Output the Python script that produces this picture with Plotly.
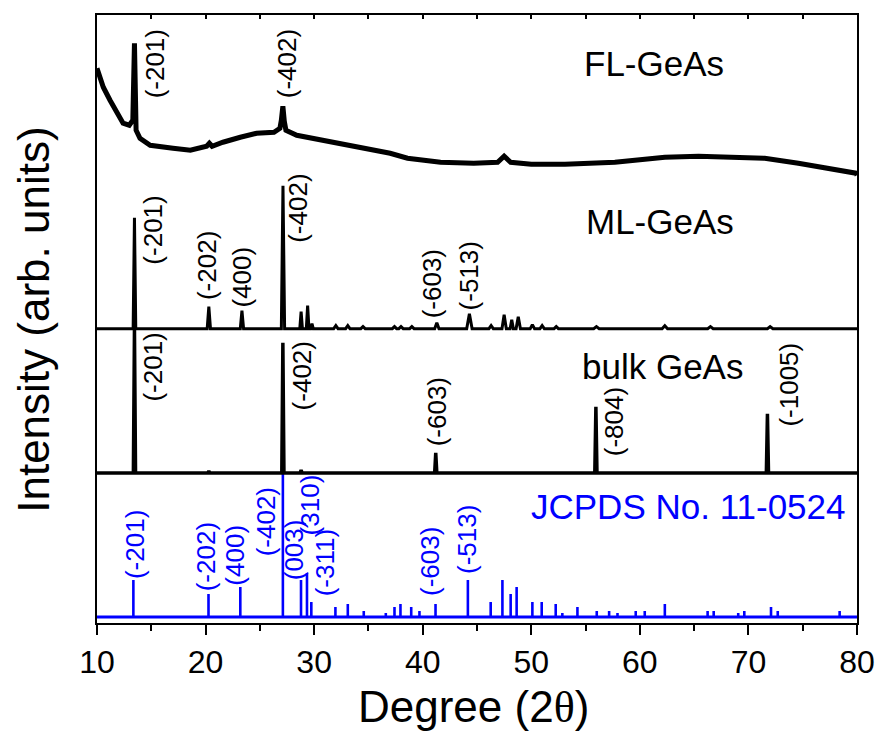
import plotly.graph_objects as go

# ---- FL-GeAs: measured profile (2theta, intensity in arb. units) ----
fl_two_theta = [10.0, 10.58, 11.2, 11.8, 12.4, 12.97, 13.3, 13.45, 13.6, 13.96, 14.9,
                17.0, 18.6, 20.1, 20.35, 20.6, 21.6, 23.2, 24.7, 26.3, 26.85, 26.98,
                27.12, 27.25, 27.4, 28.4, 30.9, 33.95, 37.0, 38.6, 41.64, 44.7, 46.9,
                47.5, 48.1, 50.0, 53.1, 57.7, 62.3, 65.4, 68.4, 71.5, 74.6, 77.6, 79.9, 80.0]
fl_intensity = [555, 536, 523, 511, 500, 498, 503, 580, 493, 485, 478,
                475, 473, 477, 480, 477, 481, 486, 490, 491, 495, 503,
                517, 502, 493, 488, 483, 476, 470, 465, 461, 460, 461,
                467, 461, 459, 459, 461, 466, 467, 466, 465, 460, 455, 450, 448]

# ---- ML-GeAs: peak list (position, height above its baseline) ----
ml_offset = 294.5
ml_peak_pos = [13.45, 20.3, 23.35, 27.13, 28.8, 29.4, 29.8, 32.0, 33.1, 34.5, 37.4, 38.0,
               39.0, 41.3, 44.3, 46.3, 47.5, 48.2, 48.8, 50.1, 51.0, 52.3, 56.0, 62.3,
               66.5, 72.0]
ml_peak_height = [111, 22, 18, 143, 17, 23, 5, 3, 3, 2, 2, 2,
                  2, 6, 15, 3, 14, 9, 12, 4, 3, 2, 2, 3,
                  2, 2]
ml_peak_halfwidth = [0.12, 0.15, 0.15, 0.15, 0.12, 0.12, 0.12, 0.2, 0.2, 0.2, 0.2, 0.2,
                     0.2, 0.2, 0.25, 0.2, 0.2, 0.15, 0.2, 0.2, 0.2, 0.2, 0.25, 0.25,
                     0.25, 0.25]

# ---- bulk GeAs: peak list ----
bulk_offset = 150.0
bulk_peak_pos = [13.45, 20.3, 27.12, 28.8, 41.2, 55.95, 71.75]
bulk_peak_height = [144.3, 2, 130.3, 3, 20.3, 66.3, 59.3]
bulk_peak_halfwidth = [0.1, 0.1, 0.1, 0.1, 0.1, 0.1, 0.1]

# ---- JCPDS No. 11-0524 reference lines ----
jcpds_offset = 6.0
jcpds_pos = [13.35, 20.27, 23.2, 27.12, 28.79, 29.34, 29.74, 31.96, 33.1, 34.57, 36.6,
             37.4, 37.95, 38.94, 39.7, 41.18, 44.16, 46.26, 47.34, 48.1, 48.65, 50.1,
             50.96, 52.25, 52.86, 54.25, 56.03, 57.17, 57.94, 59.62, 60.45, 62.3, 66.24,
             66.8, 69.06, 69.62, 72.08, 72.7, 78.4]
jcpds_height = [37, 23, 30, 144, 37, 44, 15, 10, 13, 6, 4,
                10, 13, 10, 6, 13, 37, 15, 37, 23, 30, 15,
                15, 13, 4, 10, 6, 6, 4, 6, 6, 13, 6,
                6, 4, 6, 10, 6, 6]

# ---- (hkl) labels: text, 2theta, height ----
fl_labels = ["(-201)", "(-402)"]
fl_label_x = [15.35, 27.5]
fl_label_y = [559, 559]

ml_labels = ["(-201)", "(-202)", "(400)", "(-402)", "(-603)", "(-513)"]
ml_label_x = [15.2, 20.12, 23.35, 28.57, 40.87, 44.25]
ml_label_y = [393, 358, 346.6, 415, 339, 347.6]

bulk_labels = ["(-201)", "(-402)", "(-603)", "(-804)", "(-1005)"]
bulk_label_x = [15.2, 28.87, 41.34, 57.63, 73.78]
bulk_label_y = [256, 247.6, 211, 201, 239]

jcpds_labels = ["(-201)", "(-202)", "(400)", "(-402)", "(003)", "(310)", "(-311)", "(-603)", "(-513)"]
jcpds_label_x = [13.5, 20.12, 22.73, 25.65, 28.1, 29.65, 31.03, 40.72, 44.1]
jcpds_label_y = [78, 66.6, 67.6, 101.6, 73.3, 118, 60, 61.6, 83.3]

sample_names = ["FL-GeAs", "ML-GeAs", "bulk GeAs"]
sample_name_x = [61.3, 61.9, 62.1]
sample_name_y = [560, 401.6, 256.6]

X_MIN, X_MAX = 10, 80
Y_MAX = 608.3
FONT = "Liberation Sans, Arial, sans-serif"


def peak_profile(pos, height, halfwidth, offset):
    """Line through the baseline with a narrow spike at every listed peak."""
    xs, ys = [X_MIN], [offset]
    for p, h, w in sorted(zip(pos, height, halfwidth)):
        xs += [p - w, p, p + w]
        ys += [offset, offset + h, offset]
    xs.append(X_MAX)
    ys.append(offset)
    return xs, ys


def stick_lines(pos, height, offset):
    xs, ys = [], []
    for p, h in zip(pos, height):
        xs += [p, p, None]
        ys += [offset, offset + h, None]
    return xs, ys


fig = go.Figure()

# JCPDS sticks and baseline
jx, jy = stick_lines(jcpds_pos, jcpds_height, jcpds_offset)
fig.add_trace(go.Scatter(x=jx, y=jy, mode="lines", line=dict(color="#0000ff", width=2.6),
                         showlegend=False, hoverinfo="skip"))
fig.add_trace(go.Scatter(x=[X_MIN, X_MAX], y=[jcpds_offset, jcpds_offset], mode="lines",
                         line=dict(color="#0000ff", width=3), showlegend=False, hoverinfo="skip"))

# bulk GeAs
bx, by = peak_profile(bulk_peak_pos, bulk_peak_height, bulk_peak_halfwidth, bulk_offset)
fig.add_trace(go.Scatter(x=bx, y=by, mode="lines", line=dict(color="black", width=3.5),
                         showlegend=False, hoverinfo="skip"))

# ML-GeAs
mx, my = peak_profile(ml_peak_pos, ml_peak_height, ml_peak_halfwidth, ml_offset)
fig.add_trace(go.Scatter(x=mx, y=my, mode="lines", line=dict(color="black", width=3),
                         showlegend=False, hoverinfo="skip"))

# FL-GeAs
fig.add_trace(go.Scatter(x=fl_two_theta, y=fl_intensity, mode="lines",
                         line=dict(color="black", width=5), showlegend=False, hoverinfo="skip"))

annotations = []


def add_hkl(texts, xs, ys, color):
    for t, x, y in zip(texts, xs, ys):
        annotations.append(dict(x=x, y=y, xref="x", yref="y", text=t, showarrow=False,
                                textangle=-90, xanchor="center", yanchor="middle",
                                font=dict(family=FONT, size=26, color=color)))


add_hkl(fl_labels, fl_label_x, fl_label_y, "black")
add_hkl(ml_labels, ml_label_x, ml_label_y, "black")
add_hkl(bulk_labels, bulk_label_x, bulk_label_y, "black")
add_hkl(jcpds_labels, jcpds_label_x, jcpds_label_y, "#0000ff")

for t, x, y in zip(sample_names, sample_name_x, sample_name_y):
    annotations.append(dict(x=x, y=y, xref="x", yref="y", text=t, showarrow=False,
                            xanchor="center", yanchor="middle",
                            font=dict(family=FONT, size=35, color="black")))

annotations.append(dict(x=79.16, y=116.6, xref="x", yref="y", text="JCPDS No. 11-0524",
                        showarrow=False, xanchor="right", yanchor="middle",
                        font=dict(family=FONT, size=35, color="#0000ff")))

# axis titles
annotations.append(dict(x=-0.083, y=0.4986, xref="paper", yref="paper",
                        text="Intensity (arb. units)", showarrow=False, textangle=-90,
                        xanchor="center", yanchor="middle",
                        font=dict(family=FONT, size=44, color="black")))
annotations.append(dict(x=0.4955, y=-0.138, xref="paper", yref="paper",
                        text="Degree (2<span style=\"font-family:'Liberation Serif', 'DejaVu Serif', serif\">θ</span>)",
                        showarrow=False, xanchor="center", yanchor="middle",
                        font=dict(family=FONT, size=44, color="black")))

fig.update_layout(
    width=878, height=731,
    margin=dict(l=97, r=21, t=15, b=108, autoexpand=False),
    paper_bgcolor="white", plot_bgcolor="white",
    annotations=annotations,
    xaxis=dict(range=[X_MIN, X_MAX], showgrid=False, zeroline=False, automargin=False,
               showline=True, linecolor="black", linewidth=2, mirror=True,
               ticks="outside", ticklen=10, tickwidth=2, tickcolor="black",
               dtick=10, tick0=10,
               tickfont=dict(family=FONT, size=32, color="black"),
               minor=dict(ticks="outside", ticklen=6, tickwidth=2, tickcolor="black", dtick=5)),
    xaxis2=dict(range=[X_MIN, X_MAX], overlaying="x", side="top", showgrid=False,
                zeroline=False, showticklabels=False, ticks="inside", ticklen=4,
                tickwidth=1.5, tickcolor="black", dtick=5, tick0=10, automargin=False),
    yaxis=dict(range=[0, Y_MAX], showgrid=False, zeroline=False, showticklabels=False,
               automargin=False,
               showline=True, linecolor="black", linewidth=2, mirror=True, ticks=""),
)

# empty trace so the top tick axis is drawn
fig.add_trace(go.Scatter(x=[X_MIN], y=[None], xaxis="x2", showlegend=False, hoverinfo="skip"))

fig.write_html("out.html")
